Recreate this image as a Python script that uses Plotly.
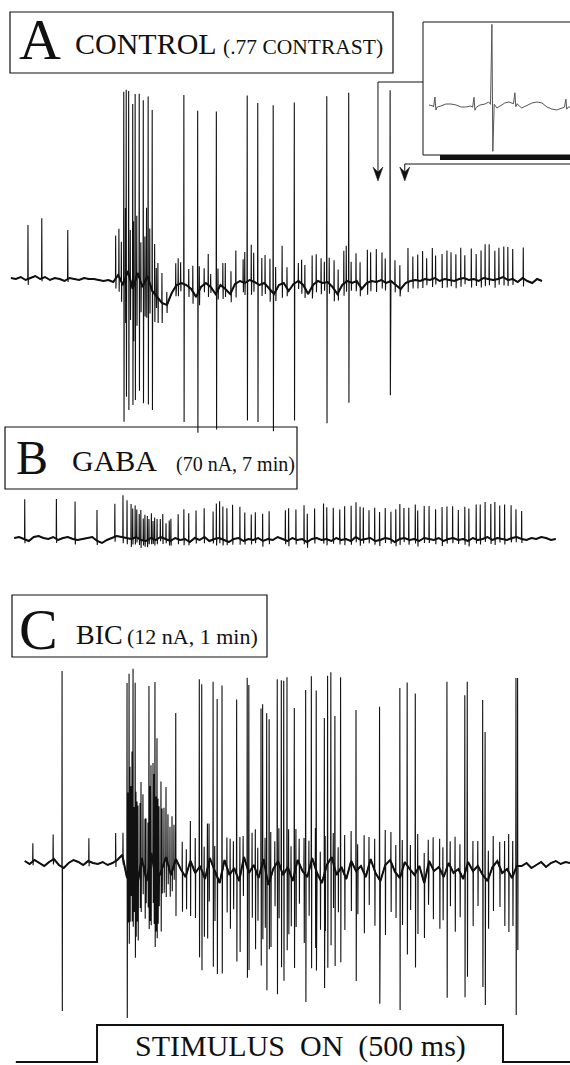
import numpy as np
import plotly.graph_objects as go

W, H = 570, 1065
X_MIN, X_MAX = -119.5, 582.5          # ms shown across the figure width

# ------------------------------------------------------------------ data
# time in ms, stimulus onset at 0 ms, offset at 500 ms
stim_t = [-100, 0, 0, 500, 500, 583]
stim_v = [0, 0, 1, 1, 0, 0]
stim_label = "STIMULUS\u2002ON\u2002(500 ms)"
inset_window = [346, 379]            # ms, the two arrows of panel A

# ---- A : control
A_span = [-106, 548]
A_base = [1, 0, 2, -1, 1, 3, 0, 2, -1, 1, 0, -2, 1, 0, -1, 1, 0, 0, -1, -2, -1, -3,
          4, -6, 8, -10, 6, -8, 3, -12, -18, -24, -26, -14, -6, -4, -6, -10, -18, -8,
          -4, -8, -15, -6, -10, -15, -5, -2, -4, -1, -3, -6, -4, -10, -15, -6, -4, -12,
          -5, -2, -6, -15, -6, -2, -4, -3, -8, -15, -6, -2, -4, -2, -10, -4, -2, -3, -1,
          -4, -2, -6, -10, -4, -2, -1,
          -2, 0, -1, 1, -2, 0, -1, -2, 0, 1, -1, 0, -2, 1, 0, -1, 0, 2, -1, 0, -3, 1, -2,
          -4, 0, -2]
A_tall_t = [33, 36, 39, 44, 47, 52, 57, 63, 68, 107, 124, 147, 185, 198, 217, 243, 283, 310, 361]
A_tall_up = [191, 186, 183, 185, 187, 184, 185, 182, 181, 189, 183, 181, 186, 181, 188, 181, 186, 189, 191]
A_tall_dn = [139, 121, 136, 116, 119, 113, 118, 126, 119, 138, 139, 137, 139, 138, 138, 137, 141, 121, 114]
A_small_t = [-85, -68, -36, 23, 27, 30, 35, 41, 45, 49, 54, 59, 61, 65, 71, 75, 80,
             73, 86, 97, 100, 103, 113, 118, 126, 132, 137, 140, 149, 155, 158, 165, 171, 180, 182,
             190, 193, 203, 207, 213, 220, 228, 234, 248, 252, 256, 265, 270, 276, 280, 286, 292,
             297, 304, 307, 313, 319, 324, 333, 337, 344, 351, 355, 367, 373, 383, 389, 395, 401,
             406, 413, 417, 425, 431, 436, 442, 448, 453, 461, 467, 473, 478, 483, 490, 495, 501,
             506, 512, 525]
A_small_up = [54, 60, 49, 43, 48, 40, 70, 50, 65, 60, 40, 45, 70, 55, 50, 35, 30,
              28, 13, 23, 26, 21, 18, 26, 24, 16, 31, 13, 21, 24, 26, 21, 33, 23, 31, 36, 29, 26,
              29, 31, 24, 38, 21, 18, 24, 23, 31, 28, 24, 21, 26, 29, 23, 33, 36, 21, 28, 24, 33,
              29, 33, 28, 24, 24, 23, 34, 24, 26, 29, 21, 31, 23, 26, 29, 28, 26, 31, 23, 31, 26,
              29, 34, 35, 29, 31, 31, 33, 30, 31]
A_small_dn = [6, 3, 3, 10, 15, 20, 45, 40, 55, 50, 30, 35, 40, 30, 28, 25, 20,
              12, 8, 10, 12, 8, 10, 12, 15, 8, 12, 6, 10, 12, 8, 10, 14, 10, 12, 14, 10, 12, 10,
              12, 10, 14, 8, 8, 10, 10, 12, 10, 12, 8, 10, 12, 8, 12, 10, 8, 10, 10, 12, 10, 10,
              8, 8, 8, 8, 10, 8, 8, 8, 6, 8, 6, 8, 8, 6, 8, 8, 6, 8, 6, 8, 8, 6, 8, 6, 8, 6, 6, 8]

# ---- inset of A (expanded time base)
inset_bt = [347.3, 348.2, 349.0, 349.9, 351.0, 352.1, 353.2, 354.3, 355.3, 356.4, 357.5, 358.4,
            359.5, 360.3, 362.1, 363.0, 363.8, 364.7, 365.6, 366.7, 367.5, 369.7, 370.8, 371.9,
            373.0, 374.0, 375.1, 376.2, 377.3, 378.0]
inset_bv = [-2, -3, -5, -3, -1, -1, -2, -4, -4, -3, -5, -2, -1, 1, -5, -2, 0, 1, 0, -2, -5, 0,
            1, 0, -4, -6, -7, -5, -4, -4]
inset_st = [348.6, 357.1, 361.0, 366.0, 377.1]
inset_up = [10, 10, 80, 11, 8]
inset_dn = [3, 3, 47, 3, 2]

# ---- B : GABA
B_span = [-102, 565]
B_base = [0, 1, -1, -3, 1, 2, 0, -1, 1, -2, 0, 1, -1, -2, -1, 0, 1, -3, -5, -2,
          0, 2, 1, 0, -1, 1, -2, -3, 0, -2, 1, -1, -3, 0, -2, -1, -4, 0, -2, 1,
          -3, -1, 0, -2, -4, -1, 0, -3, -1, -2, 0, -3, -1, -2, 1, -1, -3, 0, -2, -1,
          -4, -1, 0, -2, -1, -3, 0, -2, -1, -3, 1, -2, -1, 0, -3, -2, 0, -1, -4, -1,
          0, -2, -1, -3, 0, -1, -2, 0, -3, -1, 0, -2, -1, -3, 0, -2, -1, 1, -2, 0,
          -1, -2, 0, 1, -1, -2, 0, -1, 1, 0, -2, -1]
B_spk_t = [-89, -50, -27, 0, 22, 32, 37,
           42, 44, 47, 49, 52, 54, 57, 59, 62, 64, 67, 69, 71, 74, 78, 81, 85, 89, 91,
           100, 107, 113, 122, 132, 143, 147, 151, 155, 160, 167, 176, 182, 190, 195, 204, 212,
           232, 236, 245, 255, 259, 268, 279, 283, 291, 299, 305, 313, 319, 324, 328, 335, 342,
           348, 355, 362, 368, 373, 378, 384, 392, 395, 403, 409, 417, 425, 431, 438, 445, 453,
           458, 467, 472, 478, 485, 490, 496, 502, 510, 516, 523]
B_spk_up = [40, 40, 38, 31, 33, 42, 38,
            35, 30, 32, 28, 25, 30, 22, 26, 24, 20, 25, 18, 22, 20, 18, 24, 16, 20, 22,
            25, 30, 28, 28, 29, 28, 35, 37, 33, 33, 35, 32, 28, 25, 27, 27, 28, 30, 32, 30, 35,
            28, 30, 36, 32, 32, 30, 33, 35, 35, 33, 32, 28, 33, 28, 30, 28, 32, 35, 30, 32, 35,
            30, 32, 33, 30, 33, 33, 32, 30, 33, 32, 35, 35, 36, 35, 37, 33, 35, 33, 28, 28]
B_spk_dn = [4, 4, 5, 4, 5, 6, 6,
            8, 6, 7, 5, 6, 8, 5, 6, 7, 5, 6, 5, 6, 5, 4, 6, 4, 5, 5,
            5, 6, 4, 5, 6, 4, 7, 5, 6, 4, 5, 6, 4, 5, 4, 6, 5, 4, 6, 5, 4, 6, 5, 4, 6, 4, 5,
            6, 4, 5, 6, 4, 5, 4, 6, 5, 4, 5, 6, 4, 5, 4, 6, 5, 4, 5, 6, 4, 5, 4, 5, 6, 4, 5,
            4, 5, 6, 4, 5, 4, 5, 4]

# ---- C : bicuculline
C_span = [-89, 583]
C_base = [2, -1, 3, 0, -3, 1, 4, -2, -5, 0, 3, 1, -2, 2, 0, -1, 1, -2, 0, 3,
          8, -15, 12, -25, 5, -18, 10, -20, -8, 6, -12, 4, -6, -14, 2, -10, -3, -16, 5, -8,
          -20, 3, -12, -5, -18, 6, -10, -2, -15, 4, -22, -6, 2, -12, -4, -18, 3, -8, -14, 5,
          -10, -20, -2, 6, -12, -4, -16, 2, -8, -3, -14, 4, -10, -18, -2, 3, -9, -15, 1, -6,
          -12, -3, -20, 2, -8, -4, -14, 0, -10, -6, -16, 1, -8, -3, -12, -18, -4, 2, -10, -6,
          -15, -3,
          -3, 0, -5, -2, 1, -4, 0, 2, -1, 1, 0]
C_tall_t = [-43, 37, 39.5, 44.4, 47, 64, 71.4, 73.9, 97, 126, 129, 143, 148, 154, 172, 185, 187,
            202, 204, 209, 212, 222, 227, 230, 234, 243, 257, 264, 270, 280, 284, 288, 293, 300,
            319, 348, 373, 382, 392, 431, 453, 456, 475, 478, 516, 518]
C_tall_up = [196, 195, 193, 191, 193, 181, 193, 143, 146, 188, 186, 185, 178, 186, 175, 190, 188,
             160, 158, 163, 163, 183, 190, 193, 191, 166, 185, 185, 180, 156, 188, 186, 153, 191,
             161, 173, 190, 183, 180, 186, 178, 183, 175, 146, 190, 188]
C_tall_dn = [144, 149, 77, 67, 82, 62, 72, 57, 57, 90, 100, 100, 97, 102, 87, 110, 97,
             97, 77, 114, 67, 132, 97, 107, 82, 94, 127, 107, 100, 114, 104, 87, 97, 94,
             110, 124, 132, 89, 94, 130, 124, 112, 112, 127, 147, 84]
C_burst_t = [38.2, 40.6, 41.9, 43.1, 45.6, 48.0, 49.3, 50.5, 53.0, 54.2, 56.6, 59.1, 60.3, 62.8,
             65.3, 66.5, 69.0, 70.2, 72.7, 75.1, 76.4, 78.8, 80.1, 82.5, 85.0, 87.4, 89.9, 92.4, 94.8]
C_burst_up = [80, 95, 70, 100, 60, 90, 85, 75, 65, 80, 70, 55, 60, 50, 75, 90, 100, 95, 85, 80,
              70, 90, 60, 55, 70, 50, 45, 55, 40]
C_burst_dn = [50, 60, 40, 70, 45, 55, 35, 60, 40, 50, 30, 45, 25, 35, 60, 70, 40, 55, 50, 45,
              30, 60, 25, 30, 40, 20, 25, 20, 15]
C_small_t = [-79, -54, -10, 23, 32,
             105, 110, 115, 121, 132, 136, 138, 145, 160, 164, 168, 176, 180, 191, 195, 198, 207,
             214, 219, 224, 236, 239, 245, 249, 255, 261, 269, 275, 281, 291, 297, 305, 313, 321,
             329, 335, 342, 355, 362, 368, 376, 386, 395, 403, 408, 414, 422, 426, 435, 441, 447,
             463, 469, 482, 488, 496, 502, 507, 512]
C_small_up = [18, 25, 23, 28, 26,
              30, 25, 40, 35, 30, 45, 38, 25, 30, 35, 28, 40, 25, 35, 40, 28, 30, 45, 25, 35, 40,
              30, 38, 25, 35, 30, 40, 28, 35, 30, 25, 40, 30, 25, 38, 28, 32, 35, 30, 28, 30, 25,
              35, 30, 25, 32, 30, 28, 25, 35, 28, 30, 25, 28, 30, 25, 30, 38, 35]
C_small_dn = [4, 5, 5, 6, 6,
              40, 35, 55, 45, 60, 70, 40, 50, 45, 55, 40, 75, 35, 50, 80, 45, 60, 70, 40, 55, 65,
              50, 60, 40, 70, 45, 80, 50, 60, 45, 40, 55, 50, 45, 60, 40, 55, 70, 50, 45, 55, 40,
              65, 55, 40, 50, 60, 45, 40, 60, 45, 55, 40, 50, 45, 40, 55, 60, 50]

# ------------------------------------------------------------------ helpers
def build(bt, bv, groups, win=(0.3, 0.05, 0.25, 0.5)):
    bt = np.asarray(bt, float)
    bv = np.asarray(bv, float)
    a, p, q, r = win
    keep = np.ones(len(bt), bool)
    pts = []
    for ts, us, ds in groups:
        for t, u, d in zip(ts, us, ds):
            keep &= ~((bt >= t - a) & (bt <= t + r))
            b = float(np.interp(t, bt, bv))
            pts += [(t - a, b), (t - p, b + u), (t + q, b - d), (t + r, b)]
    pts += list(zip(bt[keep], bv[keep]))
    pts.sort(key=lambda z: z[0])
    x, y = zip(*pts)
    return list(x), list(y)


def grid(span, vals):
    return np.linspace(span[0], span[1], len(vals))


def dom(top_px, bot_px):
    return [1 - bot_px / H, 1 - top_px / H]


def PX(px):
    return px / W


def PY(py):
    return 1 - py / H


def t2px(t):
    return (t - X_MIN) / (X_MAX - X_MIN) * W


A_bt, B_bt, C_bt = grid(A_span, A_base), grid(B_span, B_base), grid(C_span, C_base)
Ax, Ay = build(A_bt, A_base,
               [(A_tall_t, A_tall_up, A_tall_dn), (A_small_t, A_small_up, A_small_dn)])
Bx, By = build(B_bt, B_base, [(B_spk_t, B_spk_up, B_spk_dn)])
Cx, Cy = build(C_bt, C_base,
               [(C_tall_t, C_tall_up, C_tall_dn), (C_burst_t, C_burst_up, C_burst_dn),
                (C_small_t, C_small_up, C_small_dn)])
Ix, Iy = build(inset_bt, inset_bv, [(inset_st, inset_up, inset_dn)], win=(0.3, 0.0, 0.2, 0.5))

INK = "#111111"
fig = go.Figure()
for (bx, bv, yax) in [(A_bt, A_base, "y"), (B_bt, B_base, "y2"), (C_bt, C_base, "y3")]:
    fig.add_trace(go.Scatter(x=list(bx), y=bv, mode="lines", line=dict(color=INK, width=2.0),
                             xaxis="x", yaxis=yax, hoverinfo="skip"))
for (x, y, yax) in [(Ax, Ay, "y"), (Bx, By, "y2"), (Cx, Cy, "y3")]:
    fig.add_trace(go.Scatter(x=x, y=y, mode="lines", line=dict(color=INK, width=1.1),
                             xaxis="x", yaxis=yax, hoverinfo="skip"))
fig.add_trace(go.Scatter(x=Ix, y=Iy, mode="lines", line=dict(color="#555555", width=1),
                         xaxis="x2", yaxis="y4", hoverinfo="skip"))
fig.add_trace(go.Scatter(x=stim_t, y=stim_v, mode="lines", line=dict(color=INK, width=2),
                         xaxis="x", yaxis="y5", hoverinfo="skip"))

ax = dict(visible=False, showgrid=False, zeroline=False, fixedrange=True)
SERIF = "Liberation Serif, Times New Roman, serif"

shapes = []
def rect(x0, y0, x1, y1, fill=None, w=1.2):
    shapes.append(dict(type="rect", xref="paper", yref="paper", x0=PX(x0), x1=PX(x1),
                       y0=PY(y0), y1=PY(y1), line=dict(color=INK, width=w if not fill else 0),
                       fillcolor=fill if fill else "rgba(0,0,0,0)"))

def line(x0, y0, x1, y1, w=1.0):
    shapes.append(dict(type="line", xref="paper", yref="paper", x0=PX(x0), x1=PX(x1),
                       y0=PY(y0), y1=PY(y1), line=dict(color=INK, width=w)))

def arrowhead(x, ytip):
    path = (f"M {PX(x-5)},{PY(ytip-14)} L {PX(x)},{PY(ytip)} L {PX(x+5)},{PY(ytip-14)} "
            f"L {PX(x)},{PY(ytip-9)} Z")
    shapes.append(dict(type="path", xref="paper", yref="paper", path=path,
                       fillcolor=INK, line=dict(color=INK, width=0.5)))

# label boxes
rect(10, 12, 393, 73)
rect(5, 427, 297, 489)
rect(12, 595, 267, 657)
# inset frame and bar
line(423, 22, 423, 155)
line(423, 22, 575, 22)
line(423, 155, 575, 155)
rect(440, 155, 575, 160, fill=INK)
# arrows marking the inset window
a1, a2 = t2px(inset_window[0]), t2px(inset_window[1])
line(a1, 82, 423, 82)
line(a1, 82, a1, 178)
arrowhead(a1, 181)
line(a2, 164, 575, 164)
line(a2, 164, a2, 178)
arrowhead(a2, 181)

annotations = []
def label(text, x_px, base_px, size):
    annotations.append(dict(text=text, xref="paper", yref="paper", x=PX(x_px - 2),
                            y=PY(base_px - 0.39 * size), xanchor="left", yanchor="middle",
                            showarrow=False, font=dict(family=SERIF, size=size, color=INK)))

label("A", 19, 62, 58)
label("CONTROL", 75, 55, 30)
label("(.77 CONTRAST)", 223, 55, 21.5)
label("B", 16, 476, 48)
label("GABA", 72, 472, 30)
label("(70 nA, 7 min)", 176, 472, 20)
label("C", 19, 652, 58)
label("BIC", 76, 645, 28)
label("(12 nA, 1 min)", 127, 645, 22)
annotations.append(dict(text=stim_label, xref="x", yref="paper", x=(stim_t[2] + stim_t[3]) / 2,
                        y=PY(1058 - 0.39 * 30), xanchor="center", yanchor="middle",
                        showarrow=False, font=dict(family=SERIF, size=30, color=INK)))

fig.update_layout(
    width=W, height=H, margin=dict(l=0, r=0, t=0, b=0),
    paper_bgcolor="white", plot_bgcolor="white", showlegend=False,
    xaxis=dict(domain=[0, 1], range=[X_MIN, X_MAX], anchor="y", **ax),
    yaxis=dict(domain=dom(80, 440), range=[-161, 199], anchor="x", **ax),
    yaxis2=dict(domain=dom(490, 560), range=[-22, 48], anchor="x", **ax),
    yaxis3=dict(domain=dom(662, 1018), range=[-155, 201], anchor="x", **ax),
    yaxis5=dict(domain=dom(1022, 1065), range=[-0.08, 1.08], anchor="x", **ax),
    xaxis2=dict(domain=[423 / W, 1], range=[346, 378], anchor="y4", **ax),
    yaxis4=dict(domain=dom(22, 155), range=[-52, 81], anchor="x2", **ax),
    shapes=shapes, annotations=annotations,
)

fig.write_html("out.html", config={"displayModeBar": False})

# remove the browser's default page margin so the figure sits at (0, 0)
with open("out.html", encoding="utf-8") as f:
    page = f.read()
page = page.replace("<head>", "<head><style>html,body{margin:0;padding:0;overflow:hidden;}</style>", 1)
with open("out.html", "w", encoding="utf-8") as f:
    f.write(page)
